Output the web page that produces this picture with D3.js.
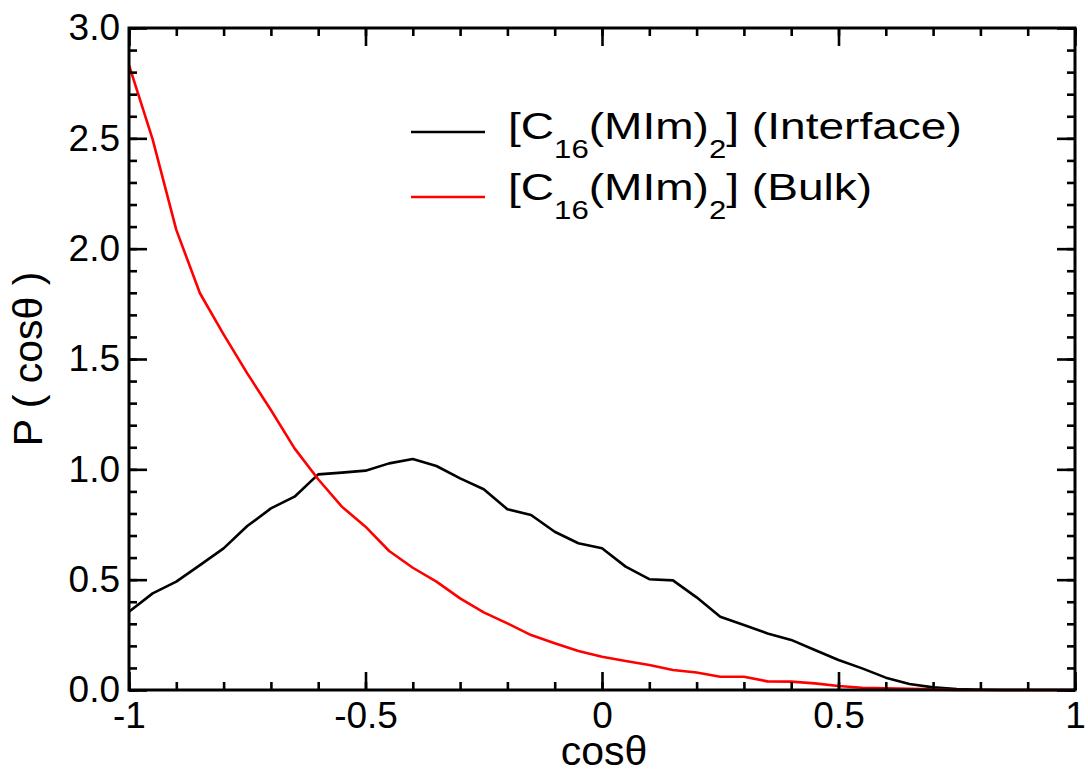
<!DOCTYPE html>
<html>
<head>
<meta charset="utf-8">
<title>P(cos theta)</title>
<script src="https://cdn.jsdelivr.net/npm/d3@7"></script>
<style>
  body { margin: 0; background: #fff; }
  svg text { font-family: "Liberation Sans", Arial, sans-serif; fill: #000; }
</style>
</head>
<body>
<div id="chart"></div>
<script>
// cos(theta) grid, step 0.05
var cosTheta = d3.range(41).map(function(i){ return -1 + i * 0.05; });

// [C16(MIm)2] interface
var interfaceVals = [0.355, 0.438, 0.491, 0.566, 0.642, 0.743, 0.823, 0.876, 0.977, 0.985,
                     0.994, 1.027, 1.047, 1.015, 0.959, 0.910, 0.819, 0.793, 0.717, 0.665,
                     0.642, 0.559, 0.502, 0.497, 0.420, 0.332, 0.295, 0.256, 0.227, 0.181,
                     0.136, 0.098, 0.056, 0.027, 0.012, 0.004, 0.001, 0.0, 0.0, 0.0, 0.0];

// [C16(MIm)2] bulk
var bulkVals = [2.832, 2.495, 2.085, 1.798, 1.612, 1.435, 1.269, 1.095, 0.955, 0.831,
                0.740, 0.630, 0.554, 0.491, 0.415, 0.352, 0.302, 0.249, 0.212, 0.177,
                0.151, 0.131, 0.113, 0.091, 0.079, 0.060, 0.060, 0.039, 0.038, 0.030,
                0.018, 0.010, 0.008, 0.005, 0.003, 0.0, 0.0, 0.0, 0.0, 0.0, 0.0];

var xTicks = [-1, -0.5, 0, 0.5, 1];
var xTickLabels = ["-1", "-0.5", "0", "0.5", "1"];
var yTicks = [0, 0.5, 1.0, 1.5, 2.0, 2.5, 3.0];
var yTickLabels = ["0.0", "0.5", "1.0", "1.5", "2.0", "2.5", "3.0"];

var seriesNames = ["Interface", "Bulk"];
var seriesColors = ["#000000", "#ff0000"];

var W = 1088, H = 776;
// note: "top" is taken by window.top, so use m-prefixed names
var mLeft = 129, mRight = 1075, mTop = 28, mBottom = 690;
var fs = 37;

var svg = d3.select("#chart").append("svg")
  .attr("width", W).attr("height", H);

var x = d3.scaleLinear().domain([-1, 1]).range([mLeft, mRight]);
var y = d3.scaleLinear().domain([0, 3]).range([mBottom, mTop]);

var xMinor = d3.range(21).map(function(i){ return -1 + i * 0.1; });
var yMinor = d3.range(31).map(function(i){ return i * 0.1; });

// curves
var line = d3.line()
  .x(function(d){ return x(d[0]); })
  .y(function(d){ return y(d[1]); });

[interfaceVals, bulkVals].forEach(function(vals, k){
  svg.append("path")
    .datum(cosTheta.map(function(c, i){ return [c, vals[i]]; }))
    .attr("d", line)
    .attr("fill", "none")
    .attr("stroke", seriesColors[k])
    .attr("stroke-width", 2.6)
    .attr("stroke-linejoin", "round");
});

function styleAxis(g){
  g.select(".domain").remove();
  g.selectAll(".tick line").attr("stroke", "#000").attr("stroke-width", 2.6);
  g.selectAll(".tick text").attr("font-size", fs).attr("fill", "#000")
    .attr("font-family", "Liberation Sans, Arial, sans-serif");
}

// bottom
svg.append("g").attr("transform", "translate(0," + mBottom + ")")
  .call(d3.axisBottom(x).tickValues(xMinor).tickSize(-8).tickFormat(""))
  .call(styleAxis);
svg.append("g").attr("transform", "translate(0," + mBottom + ")")
  .call(d3.axisBottom(x).tickValues(xTicks).tickSize(-18).tickPadding(12)
    .tickFormat(function(d, i){ return xTickLabels[i]; }))
  .call(styleAxis);
// top
svg.append("g").attr("transform", "translate(0," + mTop + ")")
  .call(d3.axisTop(x).tickValues(xMinor).tickSize(-8).tickFormat(""))
  .call(styleAxis);
svg.append("g").attr("transform", "translate(0," + mTop + ")")
  .call(d3.axisTop(x).tickValues(xTicks).tickSize(-18).tickFormat(""))
  .call(styleAxis);
// left
svg.append("g").attr("transform", "translate(" + mLeft + ",0)")
  .call(d3.axisLeft(y).tickValues(yMinor).tickSize(-8).tickFormat(""))
  .call(styleAxis);
svg.append("g").attr("transform", "translate(" + mLeft + ",0)")
  .call(d3.axisLeft(y).tickValues(yTicks).tickSize(-18).tickPadding(9)
    .tickFormat(function(d, i){ return yTickLabels[i]; }))
  .call(styleAxis);
// right
svg.append("g").attr("transform", "translate(" + mRight + ",0)")
  .call(d3.axisRight(y).tickValues(yMinor).tickSize(-8).tickFormat(""))
  .call(styleAxis);
svg.append("g").attr("transform", "translate(" + mRight + ",0)")
  .call(d3.axisRight(y).tickValues(yTicks).tickSize(-18).tickFormat(""))
  .call(styleAxis);

// frame
svg.append("rect")
  .attr("x", mLeft).attr("y", mTop)
  .attr("width", mRight - mLeft).attr("height", mBottom - mTop)
  .attr("fill", "none").attr("stroke", "#000").attr("stroke-width", 3);

// axis titles
svg.append("text")
  .attr("x", 604).attr("y", 765)
  .attr("text-anchor", "middle").attr("font-size", 41)
  .text("cos\u03b8");

svg.append("text")
  .attr("transform", "translate(42," + ((mTop + mBottom) / 2) + ") rotate(-90)")
  .attr("text-anchor", "middle").attr("font-size", 41)
  .text("P ( cos\u03b8 )");

// legend
var legX1 = 411, legX2 = 485, legTextX = 508;
var legRows = [139, 200], legLineY = [132, 197];
var legTexts = [];
seriesNames.forEach(function(name, k){
  svg.append("line")
    .attr("x1", legX1).attr("x2", legX2)
    .attr("y1", legLineY[k]).attr("y2", legLineY[k])
    .attr("stroke", seriesColors[k]).attr("stroke-width", 2.6);
  var g = svg.append("g").attr("transform", "translate(" + legTextX + "," + legRows[k] + ")");
  var t = g.append("text").attr("x", 0).attr("y", 0).attr("font-size", fs);
  t.append("tspan").text("[C");
  t.append("tspan").attr("font-size", 25).attr("dy", 19).text("16");
  t.append("tspan").attr("dy", -19).text("(MIm)");
  t.append("tspan").attr("font-size", 25).attr("dy", 19).text("2");
  t.append("tspan").attr("dy", -19).text("] (" + name + ")");
  legTexts.push(g);
});
// the reference legend font is drawn wider than it is tall
var natural = legTexts[0].select("text").node().getComputedTextLength();
var sx = natural > 0 ? 454 / natural : 1;
legTexts.forEach(function(g, k){
  g.attr("transform", "translate(" + legTextX + "," + legRows[k] + ") scale(" + sx + ",1)");
});
</script>
</body>
</html>
